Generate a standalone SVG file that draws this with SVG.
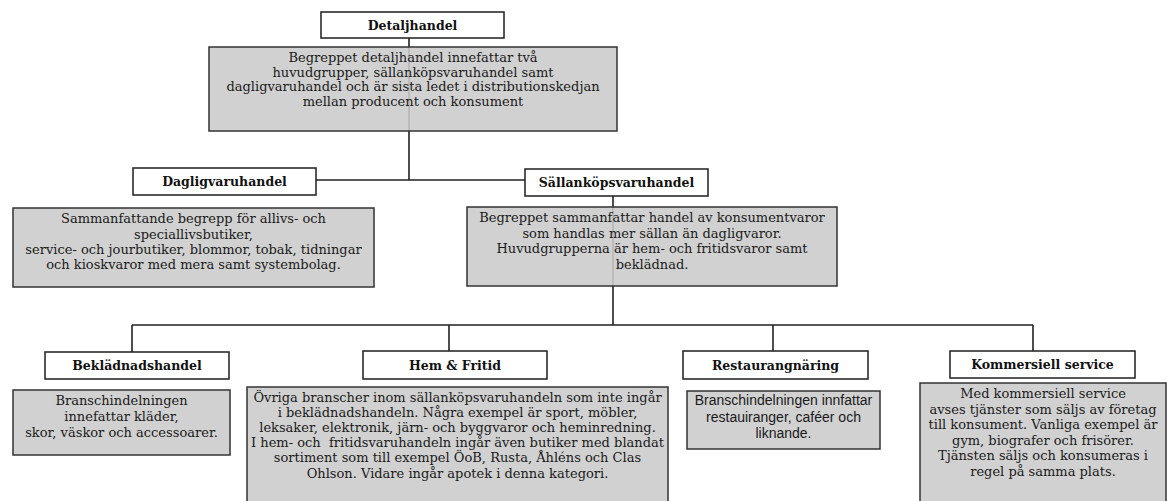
<svg xmlns="http://www.w3.org/2000/svg" width="1167" height="501" viewBox="0 0 1167 501">
<style>
.t{fill:#fff;stroke:#1e1e1e;stroke-width:1.5}
.g{fill:#cbcbcb;fill-opacity:0.88;stroke:#333;stroke-width:1.5}
.h{font-family:"DejaVu Serif",serif;font-weight:bold;font-size:12.5px;text-anchor:middle;fill:#111}
.b{font-family:"DejaVu Serif",serif;font-size:13px;text-anchor:middle;fill:#1a1a1a}
.s{font-family:"Liberation Sans",Arial,sans-serif;font-size:14px;text-anchor:middle;fill:#1a1a1a}
.c{stroke:#222;stroke-width:1.6;fill:none}
</style>
<rect width="1167" height="501" fill="#fff"/>
<g id="connectors">
<path class="c" d="M409 38V180M316 180H525M613 196V325M132 325H1033M132 325V352M449 325V351M773 325V351M1033 325V351"/>
</g>
<g id="detaljhandel">
<rect class="t" x="321" y="12" width="183" height="26"/>
<text class="h" x="412.5" y="29.5">Detaljhandel</text>
</g>
<g id="detaljhandel-desc">
<rect class="g" x="209" y="47" width="408" height="84"/>
<text class="b" x="413" y="62">Begreppet detaljhandel innefattar två</text>
<text class="b" x="413" y="76.5">huvudgrupper, sällanköpsvaruhandel samt</text>
<text class="b" x="413" y="91">dagligvaruhandel och är sista ledet i distributionskedjan</text>
<text class="b" x="413" y="105.5">mellan producent och konsument</text>
</g>
<g id="dagligvaruhandel">
<rect class="t" x="133" y="168" width="183" height="27"/>
<text class="h" x="224.5" y="186">Dagligvaruhandel</text>
</g>
<g id="dagligvaruhandel-desc">
<rect class="g" x="13" y="208" width="361" height="79"/>
<text class="b" x="193.5" y="223">Sammanfattande begrepp för allivs- och</text>
<text class="b" x="193.5" y="238.5">speciallivsbutiker,</text>
<text class="b" x="193.5" y="254">service- och jourbutiker, blommor, tobak, tidningar</text>
<text class="b" x="193.5" y="269">och kioskvaror med mera samt systembolag.</text>
</g>
<g id="sallankopsvaruhandel">
<rect class="t" x="525" y="169" width="183" height="27"/>
<text class="h" x="616.5" y="187">Sällanköpsvaruhandel</text>
</g>
<g id="sallankopsvaruhandel-desc">
<rect class="g" x="467" y="207" width="370" height="79"/>
<text class="b" x="652" y="222">Begreppet sammanfattar handel av konsumentvaror</text>
<text class="b" x="652" y="237.5">som handlas mer sällan än dagligvaror.</text>
<text class="b" x="652" y="253">Huvudgrupperna är hem- och fritidsvaror samt</text>
<text class="b" x="652" y="268.5">beklädnad.</text>
</g>
<g id="bekladnadshandel">
<rect class="t" x="45" y="352" width="184" height="27"/>
<text class="h" x="137" y="370">Beklädnadshandel</text>
</g>
<g id="bekladnadshandel-desc">
<rect class="g" x="13" y="390" width="217" height="65"/>
<text class="b" x="121.5" y="405">Branschindelningen</text>
<text class="b" x="121.5" y="421">innefattar kläder,</text>
<text class="b" x="121.5" y="437">skor, väskor och accessoarer.</text>
</g>
<g id="hem-fritid">
<rect class="t" x="363" y="351" width="184" height="28"/>
<text class="h" x="455" y="369.5">Hem &amp; Fritid</text>
</g>
<g id="hem-fritid-desc">
<rect class="g" x="247" y="387" width="421" height="120"/>
<text class="b" x="457.5" y="402">Övriga branscher inom sällanköpsvaruhandeln som inte ingår</text>
<text class="b" x="457.5" y="417">i beklädnadshandeln. Några exempel är sport, möbler,</text>
<text class="b" x="457.5" y="432">leksaker, elektronik, järn- och byggvaror och heminredning.</text>
<text class="b" x="457.5" y="447" xml:space="preserve">I hem- och  fritidsvaruhandeln ingår även butiker med blandat</text>
<text class="b" x="457.5" y="462">sortiment som till exempel ÖoB, Rusta, Åhléns och Clas</text>
<text class="b" x="457.5" y="477.5">Ohlson. Vidare ingår apotek i denna kategori.</text>
</g>
<g id="restaurangnaring">
<rect class="t" x="683" y="351" width="185" height="28"/>
<text class="h" x="775.5" y="369.5">Restaurangnäring</text>
</g>
<g id="restaurangnaring-desc">
<rect class="g" x="687" y="391" width="193" height="58"/>
<text class="s" x="783.5" y="405">Branschindelningen innfattar</text>
<text class="s" x="783.5" y="421.5">restauiranger, caféer och</text>
<text class="s" x="783.5" y="438">liknande.</text>
</g>
<g id="kommersiell-service">
<rect class="t" x="950" y="351" width="185" height="27"/>
<text class="h" x="1042.5" y="369">Kommersiell service</text>
</g>
<g id="kommersiell-service-desc">
<rect class="g" x="920" y="383" width="246" height="125"/>
<text class="b" x="1043" y="398">Med kommersiell service</text>
<text class="b" x="1043" y="413.5">avses tjänster som säljs av företag</text>
<text class="b" x="1043" y="429">till konsument. Vanliga exempel är</text>
<text class="b" x="1043" y="444.5">gym, biografer och frisörer.</text>
<text class="b" x="1043" y="460">Tjänsten säljs och konsumeras i</text>
<text class="b" x="1043" y="475.5">regel på samma plats.</text>
</g>
</svg>
